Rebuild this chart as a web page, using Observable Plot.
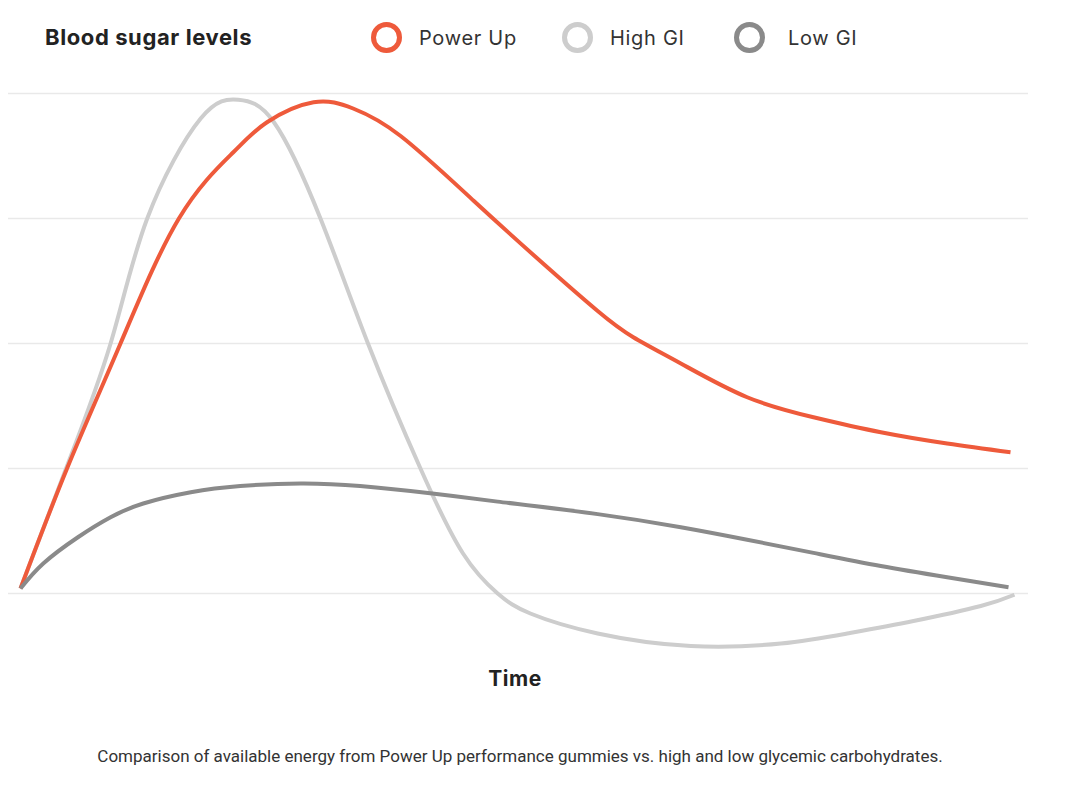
<!DOCTYPE html>
<html>
<head>
<meta charset="utf-8">
<script src="https://cdn.jsdelivr.net/npm/d3@7"></script>
<script src="https://cdn.jsdelivr.net/npm/@observablehq/plot@0.6"></script>
<style>
  html, body { margin: 0; padding: 0; background: #fff; }
  #wrap { position: relative; width: 1068px; height: 800px; overflow: hidden; }
  #header { position: relative; height: 75px; }
  #title { position: absolute; left: 45px; top: 24px; font-family: Inter, "Noto Sans", sans-serif; font-weight: 700; font-size: 22px; color: #222; letter-spacing: 0.6px; }
  .leg { position: absolute; top: 22px; display: flex; align-items: center; font-family: Inter, "Noto Sans", sans-serif; font-size: 20px; color: #333; letter-spacing: 0.7px; }
  .leg .sw { width: 21px; height: 21px; border-radius: 50%; border-width: 5px; border-style: solid; margin-right: 17px; }
  #xlabel { position: absolute; left: 0; width: 1030px; top: 666px; text-align: center; font-family: Inter, "Noto Sans", sans-serif; font-weight: 700; font-size: 21px; color: #222; letter-spacing: 0.5px; }
  #caption { position: absolute; left: 0; width: 1040px; top: 746px; text-align: center; font-family: Roboto, sans-serif; font-size: 17px; color: #333; }
</style>
</head>
<body>
<div id="wrap">
  <div id="header"></div>
  <div id="chart"></div>
  <div id="xlabel"></div>
  <div id="caption"></div>
</div>
<script>
// ---- Data ----
const seriesNames = ["Power Up", "High GI", "Low GI"];
const seriesColors = ["#ee5a3b", "#cdcdcd", "#8a8a8a"];
const titleText = "Blood sugar levels";
const xLabelText = "Time";
const captionText = "Comparison of available energy from Power Up performance gummies vs. high and low glycemic carbohydrates.";
const gridValues = [0, 1, 2, 3, 4];

const powerUpTime = [0, 4.7, 10.1, 16.0, 21.5, 24.9, 29.6, 33.6, 38.4, 45.8, 52.5, 58.3, 61.9, 66.7, 73.4, 80.1, 86.9, 93.6, 100];
const powerUpValue = [0.04, 1.0, 2.0, 3.0, 3.53, 3.77, 3.93, 3.88, 3.66, 3.14, 2.66, 2.26, 2.05, 1.84, 1.57, 1.41, 1.29, 1.20, 1.13];

const highGITime = [0, 4.6, 9.1, 12.8, 18.2, 22.0, 25.6, 30.3, 35.1, 40.4, 44.7, 48.2, 51.5, 58.3, 67.7, 76.8, 83.5, 90.2, 97, 100.4];
const highGIValue = [0.04, 1.0, 2.0, 3.0, 3.80, 3.95, 3.77, 3.0, 2.0, 1.0, 0.32, 0, -0.16, -0.32, -0.42, -0.40, -0.32, -0.22, -0.10, -0.01];

const lowGITime = [0, 2.3, 5.8, 9.1, 12.4, 17.2, 22.2, 28.3, 34.3, 41.6, 48.2, 58.3, 66.7, 73.4, 80.1, 86.9, 93.6, 99.8];
const lowGIValue = [0.04, 0.24, 0.45, 0.61, 0.72, 0.81, 0.86, 0.88, 0.86, 0.80, 0.735, 0.635, 0.53, 0.43, 0.325, 0.22, 0.13, 0.05];

// ---- Build table (drawing order: High GI, Power Up, Low GI) ----
const rows = [];
const seriesData = {
  "Power Up": [powerUpTime, powerUpValue],
  "High GI": [highGITime, highGIValue],
  "Low GI": [lowGITime, lowGIValue]
};
["High GI", "Power Up", "Low GI"].forEach(name => {
  const [ts, vs] = seriesData[name];
  ts.forEach((t, j) => rows.push({series: name, time: t, value: vs[j]}));
});

// ---- Header (title + legend) ----
const header = document.getElementById("header");
const title = document.createElement("div");
title.id = "title";
title.textContent = titleText;
header.appendChild(title);
const legendX = [371, 562, 734];
seriesNames.forEach((name, i) => {
  const item = document.createElement("div");
  item.className = "leg";
  item.style.left = legendX[i] + "px";
  const sw = document.createElement("span");
  sw.className = "sw";
  sw.style.borderColor = seriesColors[i];
  if (i === 2) sw.style.marginRight = "23px";
  const lab = document.createElement("span");
  lab.textContent = name;
  item.appendChild(sw);
  item.appendChild(lab);
  header.appendChild(item);
});

// ---- Plot ----
const chart = Plot.plot({
  width: 1068,
  height: 585,
  marginLeft: 8,
  marginRight: 40,
  marginTop: 0,
  marginBottom: 0,
  x: {domain: [0, 100], range: [20, 1010], axis: null},
  y: {domain: [0, 4], range: [518, 18], axis: null},
  color: {domain: seriesNames, range: seriesColors},
  style: {background: "transparent", overflow: "visible"},
  marks: [
    Plot.ruleY(gridValues, {stroke: "#e9e9e9", strokeWidth: 1.5}),
    Plot.line(rows, {
      x: "time", y: "value", z: "series", stroke: "series",
      strokeWidth: 4, curve: "natural", strokeLinecap: "butt", strokeLinejoin: "round"
    })
  ]
});
document.getElementById("chart").appendChild(chart);

document.getElementById("xlabel").textContent = xLabelText;
document.getElementById("caption").textContent = captionText;
</script>
</body>
</html>
